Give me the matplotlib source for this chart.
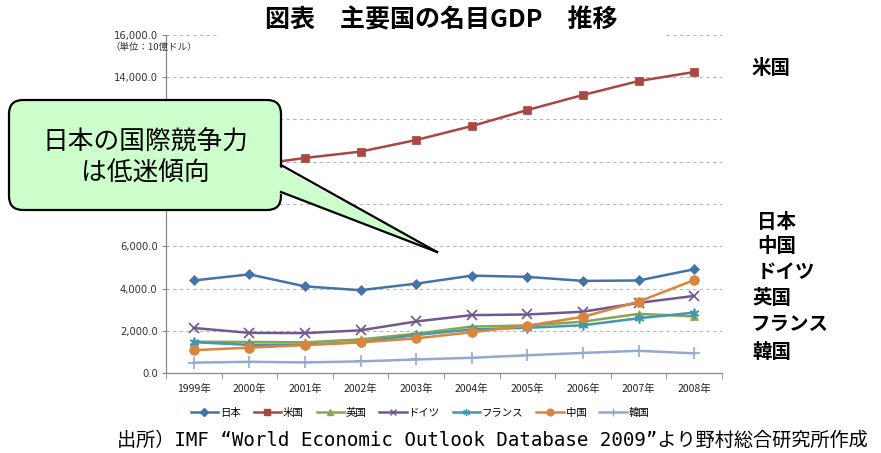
import matplotlib
matplotlib.use("Agg")
import matplotlib.pyplot as plt
from matplotlib.patches import FancyBboxPatch, Polygon, Rectangle
from matplotlib.lines import Line2D
from matplotlib.transforms import IdentityTransform

plt.rcParams['font.family'] = ['Noto Sans CJK JP', 'DejaVu Sans']

years = ['1999年', '2000年', '2001年', '2002年', '2003年', '2004年', '2005年', '2006年', '2007年', '2008年']
japan   = [4380, 4670, 4100, 3920, 4230, 4610, 4550, 4360, 4380, 4910]
usa     = [9300, 9820, 10180, 10480, 11030, 11690, 12450, 13160, 13820, 14250]
uk      = [1480, 1470, 1450, 1590, 1860, 2200, 2250, 2430, 2800, 2680]
germany = [2130, 1900, 1890, 2020, 2440, 2740, 2770, 2900, 3320, 3650]
france  = [1460, 1330, 1340, 1460, 1800, 2060, 2140, 2260, 2590, 2860]
china   = [1080, 1200, 1320, 1450, 1640, 1930, 2240, 2660, 3380, 4400]
korea   = [490, 530, 500, 550, 640, 720, 840, 950, 1050, 930]

series = [
    ('日本', japan, '#4572A7', 'D', 5.5),
    ('米国', usa, '#AA4643', 's', 6),
    ('英国', uk, '#89A54E', '^', 6),
    ('ドイツ', germany, '#71588F', 'x', 7),
    ('フランス', france, '#4198AF', (6, 2, 0), 7),
    ('中国', china, '#DB843D', 'o', 7),
    ('韓国', korea, '#93A9CF', '+', 8),
]
right_labels = ['米国', '日本', '中国', 'ドイツ', '英国', 'フランス', '韓国']
yticks = [0, 2000, 4000, 6000, 8000, 10000, 12000, 14000, 16000]
hidden_ticks = [8000, 10000, 12000]  # covered by the callout in the reference

W, H = 881, 453
fig = plt.figure(figsize=(W / 100, H / 100), dpi=100)
ax = fig.add_axes([166 / W, 1 - 373 / H, (722 - 166) / W, (373 - 35) / H])

x = list(range(len(years)))
for name, vals, col, mk, ms in series:
    ax.plot(x, vals, color=col, lw=1.8, marker=mk, markersize=ms,
            markeredgecolor=col, markerfacecolor=col, label=name,
            markeredgewidth=1.2 if mk in ('x', '+') or isinstance(mk, tuple) else 0.5)

ax.set_xlim(-0.5, len(years) - 0.5)
ax.set_ylim(0, 16000)
ax.set_yticks(yticks)
ax.set_yticklabels(['' if v in hidden_ticks else f"{v:,.1f}" for v in yticks],
                   fontsize=7.2, color='#333333', family='DejaVu Sans')
ax.set_xticks(x)
ax.set_xticklabels(years, fontsize=7.5, color='#222222')
ax.set_xticks([i - 0.5 for i in range(len(years) + 1)], minor=True)
ax.tick_params(axis='x', which='major', length=0, pad=8)
ax.tick_params(axis='x', which='minor', length=4, color='#888888', direction='out')
ax.tick_params(axis='y', length=3, color='#888888', pad=3)
ax.yaxis.grid(True, linestyle=(0, (3, 3)), color='#b5b5b5', lw=0.8)
ax.set_axisbelow(True)
for s in ('top', 'right'):
    ax.spines[s].set_visible(False)
for s in ('left', 'bottom'):
    ax.spines[s].set_color('#888888')
    ax.spines[s].set_linewidth(0.9)

def fx(px):
    return px / W

def fy(py):
    return 1 - py / H

T = IdentityTransform()

# unit label
fig.text(fx(110), fy(47), '（単位：10億ドル）', fontsize=6.8, va='center', ha='left', color='#333333')

# title with white background block
fig.add_artist(Rectangle((220, H - 40), 443, 40, transform=T, facecolor='white',
                         edgecolor='none', zorder=2))
fig.text(fx(441), fy(20), '図表　主要国の名目GDP　推移', fontsize=18, fontweight='bold',
         ha='center', va='center', zorder=3)

# right labels
pos = {'米国': (752, 68), '日本': (757, 222), '中国': (757, 247), 'ドイツ': (757, 272),
       '英国': (752, 298), 'フランス': (750, 324), '韓国': (752, 353)}
for lab in right_labels:
    px, py = pos[lab]
    fig.text(fx(px), fy(py), lab, fontsize=14, fontweight='bold', ha='left', va='center')

# legend
handles = [Line2D([0], [0], color=c, lw=1.8, marker=m, markersize=ms * 0.7,
                  markerfacecolor=c, markeredgecolor=c) for _, _, c, m, ms in series]
fig.legend(handles, [s[0] for s in series], loc='center', bbox_to_anchor=(fx(420), fy(413)),
           ncol=7, frameon=False, fontsize=7.5, handlelength=2.6, handletextpad=0.2,
           columnspacing=1.25)

# source
fig.text(fx(117), fy(440), '出所）IMF “World Economic Outlook Database 2009”より野村総合研究所作成',
         fontsize=13.8, ha='left', va='center', family=['DejaVu Sans Mono', 'Noto Sans CJK JP'])

# speech bubble (pixel coordinates)
def d(px, py):
    return (px, H - py)

bx0, by0, bx1, by1 = 9, 100, 281, 210
r = 14
box = FancyBboxPatch(d(bx0 + r, by1 - r), (bx1 - bx0) - 2 * r, (by1 - by0) - 2 * r,
                     boxstyle=f"round,pad={r},rounding_size={r}", transform=T,
                     facecolor='#ccffcc', edgecolor='black', lw=1.6, zorder=5)
fig.add_artist(box)
tail = Polygon([d(276, 165), d(437, 252), d(276, 192)], closed=True, transform=T,
               facecolor='#ccffcc', edgecolor='none', zorder=6)
fig.add_artist(tail)
fig.add_artist(Line2D([281, 437], [H - 165, H - 252], transform=T, color='black', lw=1.6, zorder=7))
fig.add_artist(Line2D([281, 437], [H - 192, H - 252], transform=T, color='black', lw=1.6, zorder=7))
fig.text(fx(145), fy(158), '日本の国際競争力\nは低迷傾向', fontsize=18.5, ha='center', va='center',
         linespacing=1.3, zorder=8)

fig.savefig('out.png', dpi=100)
